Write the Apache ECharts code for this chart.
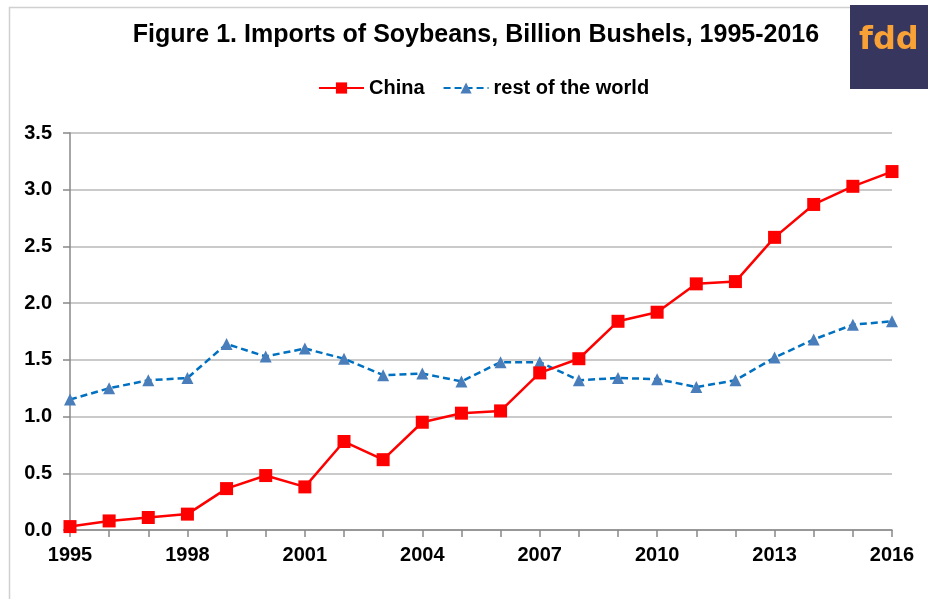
<!DOCTYPE html>
<html><head><meta charset="utf-8">
<script src="https://cdn.jsdelivr.net/npm/echarts@6/dist/echarts.min.js"></script>
<style>html,body{margin:0;padding:0;background:#fff}#c{width:928px;height:599px}</style>
</head><body><div id="c"></div>
<script>
const years = ['1995','1996','1997','1998','1999','2000','2001','2002','2003','2004','2005','2006','2007','2008','2009','2010','2011','2012','2013','2014','2015','2016'];
const china = [0.03,0.08,0.11,0.14,0.365,0.48,0.38,0.78,0.62,0.95,1.03,1.05,1.385,1.51,1.84,1.92,2.17,2.19,2.58,2.87,3.03,3.16];
const restOfWorld = [1.15,1.25,1.32,1.34,1.64,1.53,1.60,1.51,1.365,1.38,1.31,1.48,1.48,1.32,1.34,1.33,1.26,1.32,1.52,1.68,1.81,1.84];
const yTicks = [0,0.5,1,1.5,2,2.5,3,3.5];

const font = '"Liberation Sans", Arial, sans-serif';
const chart = echarts.init(document.getElementById('c'));
chart.setOption({
  animation: false,
  textStyle: {fontFamily: font},
  graphic: [
    {type:'rect', left:7, top:5, shape:{width:940, height:620}, style:{fill:'none', stroke:'#d0d0d0', lineWidth:1.5}, z:-1},
    {type:'rect', left:850, top:5, shape:{width:80, height:84}, style:{fill:'#36365f'}},
    {type:'text', left:859, top:25, style:{text:'fdd', fill:'#f7a136', font:'bold 32px "DejaVu Sans", sans-serif'}}
  ],
  title: {
    text: 'Figure 1. Imports of Soybeans, Billion Bushels, 1995-2016',
    left: 471, top: 18, textAlign: 'center',
    textStyle: {fontFamily: font, fontWeight: 'bold', fontSize: 25, color: '#000'}
  },
  legend: {
    top: 73, left: 313,
    itemWidth: 45, itemHeight: 14, itemGap: 18,
    textStyle: {fontFamily: font, fontWeight: 'bold', fontSize: 20, color: '#000'},
    data: ['China', 'rest of the world']
  },
  grid: {left: 70, right: 36, top: 133, bottom: 69},
  xAxis: {
    type: 'category', data: years, boundaryGap: false,
    axisLine: {lineStyle: {color: '#888', width: 1.5}},
    axisTick: {show: true, interval: 0, length: 7, inside: false, lineStyle: {color: '#888', width: 1.5}},
    axisLabel: {interval: 2, margin: 15, fontFamily: font, fontWeight: 'bold', fontSize: 20, color: '#000'},
    splitLine: {show: false}
  },
  yAxis: {
    type: 'value', min: 0, max: 3.5, interval: 0.5,
    axisLine: {show: true, lineStyle: {color: '#888', width: 1.5}},
    axisTick: {show: true, length: 7, lineStyle: {color: '#888', width: 1.5}},
    axisLabel: {margin: 18, fontFamily: font, fontWeight: 'bold', fontSize: 20, color: '#000',
      formatter: v => v.toFixed(1)},
    splitLine: {show: true, lineStyle: {color: '#b8b8b8', width: 1.5}}
  },
  series: [
    {name: 'China', type: 'line', data: china, symbol: 'rect', symbolSize: 13,
     itemStyle: {color: '#ff0000'}, lineStyle: {color: '#ff0000', width: 2.5}, z: 3},
    {name: 'rest of the world', type: 'line', data: restOfWorld, symbol: 'triangle', symbolSize: 12,
     itemStyle: {color: '#4a7ebb'}, lineStyle: {color: '#0070c0', width: 2.5, type: [7,4]}, z: 2}
  ]
});
</script></body></html>
